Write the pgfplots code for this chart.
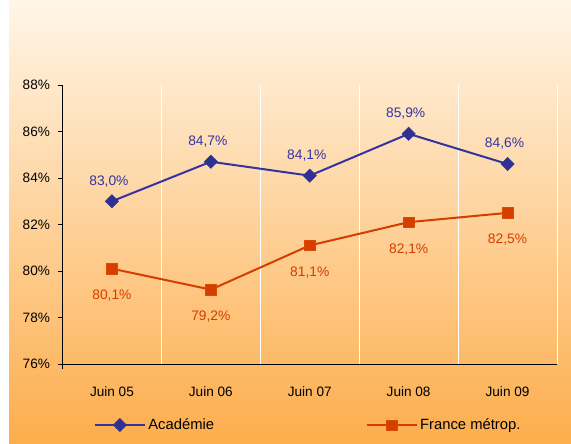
\documentclass[border=0pt]{standalone}
\usepackage{fontspec}
\setmainfont{Liberation Sans}
\usepackage{pgfplots}
\pgfplotsset{compat=1.18}

\definecolor{acad}{RGB}{52,52,160}
\definecolor{acadmark}{RGB}{46,49,146}
\definecolor{france}{RGB}{212,62,0}
\definecolor{bgtop}{RGB}{255,246,232}
\definecolor{bgbot}{RGB}{253,173,76}

\begin{document}
\begin{tikzpicture}
% fond degrade
\fill[white] (0pt,0pt) rectangle (571pt,-444pt);
\shade[top color=bgtop,bottom color=bgbot] (9pt,0pt) rectangle (571pt,-444pt);

\begin{axis}[
    at={(62.5pt,-364pt)}, anchor=south west,
    scale only axis,
    width=494.5pt, height=279pt,
    xmin=-0.5, xmax=4.5,
    ymin=76, ymax=88,
    axis x line*=bottom,
    axis y line*=left,
    axis line style={black, line width=0.9pt},
    xtick={0,1,2,3,4},
    xticklabels={Juin 05,Juin 06,Juin 07,Juin 08,Juin 09},
    major x tick style={draw=none},
    minor xtick={-0.5},
    minor x tick style={black, line width=0.9pt},
    minor tick length=5pt,
    extra x ticks={0.5,1.5,2.5,3.5,4.5},
    extra x tick labels={},
    extra x tick style={
        grid=major,
        major grid style={white, line width=0.9pt},
        tick style={black, line width=0.9pt},
        major tick length=5pt, tick align=outside},
    ytick={76,78,...,88},
    yticklabel={\pgfmathprintnumber{\tick}\%},
    ytick style={black, line width=0.9pt},
    major tick length=5pt, tick align=outside,
    /pgf/number format/assume math mode=true,
    tick label style={font=\fontsize{13.6}{15}\selectfont, black},
    xticklabel style={yshift=-14pt},
    yticklabel style={xshift=-4pt},
    legend columns=2,
    legend style={at={(0.063,-0.219)}, anchor=west, draw=none, fill=none,
        inner sep=0pt, nodes={inner sep=2.5pt},
        font=\fontsize{14.8}{16}\selectfont,
        /tikz/every even column/.append style={column sep=149pt}},
    legend image code/.code={
        \draw[mark repeat=2,mark phase=2,#1]
        plot coordinates {(0pt,0pt) (25pt,0pt) (50pt,0pt)};},
    clip=false,
]
\addplot[acad, line width=2pt, mark=square*, mark size=4.7pt,
    mark options={rotate=45, fill=acadmark, draw=acadmark, line width=0.5pt},
    nodes near coords={\pgfmathprintnumber[fixed,fixed zerofill,precision=1,use comma]{\pgfplotspointmeta}\%},
    every node near coord/.append style={anchor=center, yshift=20pt, xshift=-3pt,
        text=acad, font=\fontsize{13.8}{15}\selectfont}]
    coordinates {(0,83.0) (1,84.7) (2,84.1) (3,85.9) (4,84.6)};
\addlegendentry{Académie}
\addplot[france, line width=2pt, mark=square*, mark size=5.3pt,
    mark options={fill=france, draw=france!80!orange, line width=0.5pt},
    nodes near coords={\pgfmathprintnumber[fixed,fixed zerofill,precision=1,use comma]{\pgfplotspointmeta}\%},
    every node near coord/.append style={anchor=center, yshift=-27pt,
        text=france, font=\fontsize{13.8}{15}\selectfont}]
    coordinates {(0,80.1) (1,79.2) (2,81.1) (3,82.1) (4,82.5)};
\addlegendentry{France métrop.}
\end{axis}
\end{tikzpicture}
\end{document}
